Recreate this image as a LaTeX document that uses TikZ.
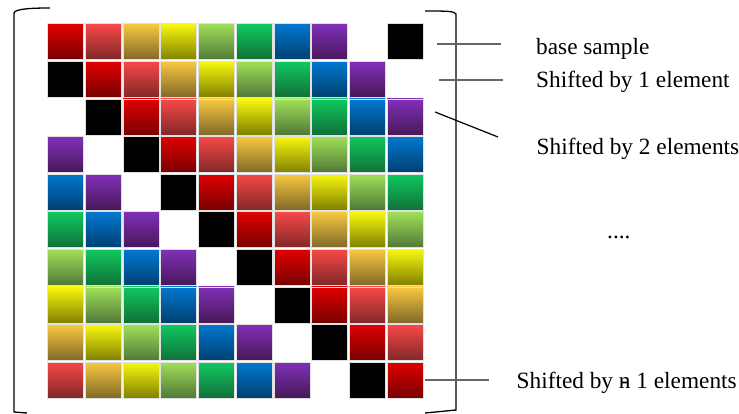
\documentclass[tikz,border=0pt]{standalone}
\usepackage{fontspec}
\setmainfont{Liberation Serif}
\usetikzlibrary{positioning}

\definecolor{top0}{HTML}{E00000}\definecolor{bot0}{HTML}{780000}
\definecolor{top1}{HTML}{F84848}\definecolor{bot1}{HTML}{802828}
\definecolor{top2}{HTML}{F8C840}\definecolor{bot2}{HTML}{806828}
\definecolor{top3}{HTML}{F8F810}\definecolor{bot3}{HTML}{808000}
\definecolor{top4}{HTML}{A0E058}\definecolor{bot4}{HTML}{507838}
\definecolor{top5}{HTML}{10C860}\definecolor{bot5}{HTML}{107038}
\definecolor{top6}{HTML}{0078D0}\definecolor{bot6}{HTML}{004070}
\definecolor{top7}{HTML}{8030B8}\definecolor{bot7}{HTML}{481858}

\begin{document}
\begin{tikzpicture}[x=1pt,y=-1pt,
  cell/.style={draw=black!12,line width=0.6pt,minimum width=36pt,minimum height=36pt,inner sep=0pt,outer sep=0pt},
  lbl/.style={font=\fontsize{23.3}{26}\selectfont,inner sep=0pt,anchor=base west},
  pointer/.style={draw=black!60,line width=1.2pt},
  bracket/.style={draw=black,line width=1.3pt}]
  \useasboundingbox (0,0) rectangle (739,414);

  % shifted rows
  \foreach \r in {0,...,9}{
    \foreach \c in {0,...,9}{
      \pgfmathtruncatemacro\k{mod(\c-\r+10,10)}
      \ifnum\k<8
        \node[cell,top color=top\k,bottom color=bot\k] (c\r\c) at ({65.3+37.75*\c},{41.7+37.6*\r}) {};
      \else\ifnum\k=9
        \node[cell,fill=black] (c\r\c) at ({65.3+37.75*\c},{41.7+37.6*\r}) {};
      \fi\fi
    }
  }

  % brackets
  \draw[bracket] (50,8) .. controls (30,8) and (15,9) .. (14,13) -- (14,412) -- (27,413);
  \draw[bracket] (425,11) .. controls (445,11) and (455,11) .. (456,14) -- (456,410) -- (425,413);

  \node[lbl] (base) at (536,55) {base sample};
  \node[lbl] (one) at (536,88) {Shifted by 1 element};
  \node[lbl] (two) at (536.5,155) {Shifted by 2 elements};
  \node[lbl] (dots) at (607,238.5) {....};
  \node[lbl] (last) at (516.5,388) {Shifted by \ooalign{n\cr\hidewidth-\hidewidth} 1 elements};

  \coordinate (p1) at (437,44);  \coordinate (q1) at (501,44);
  \coordinate (p2) at (439,80);  \coordinate (q2) at (503,80);
  \coordinate (p3) at (435,112); \coordinate (q3) at (498,137);
  \coordinate (p4) at (425,380); \coordinate (q4) at (489,380);
  \draw[pointer] (p1)--(q1);
  \draw[pointer] (p2)--(q2);
  \draw[pointer,draw=black] (p3)--(q3);
  \draw[pointer] (p4)--(q4);
\end{tikzpicture}
\end{document}
